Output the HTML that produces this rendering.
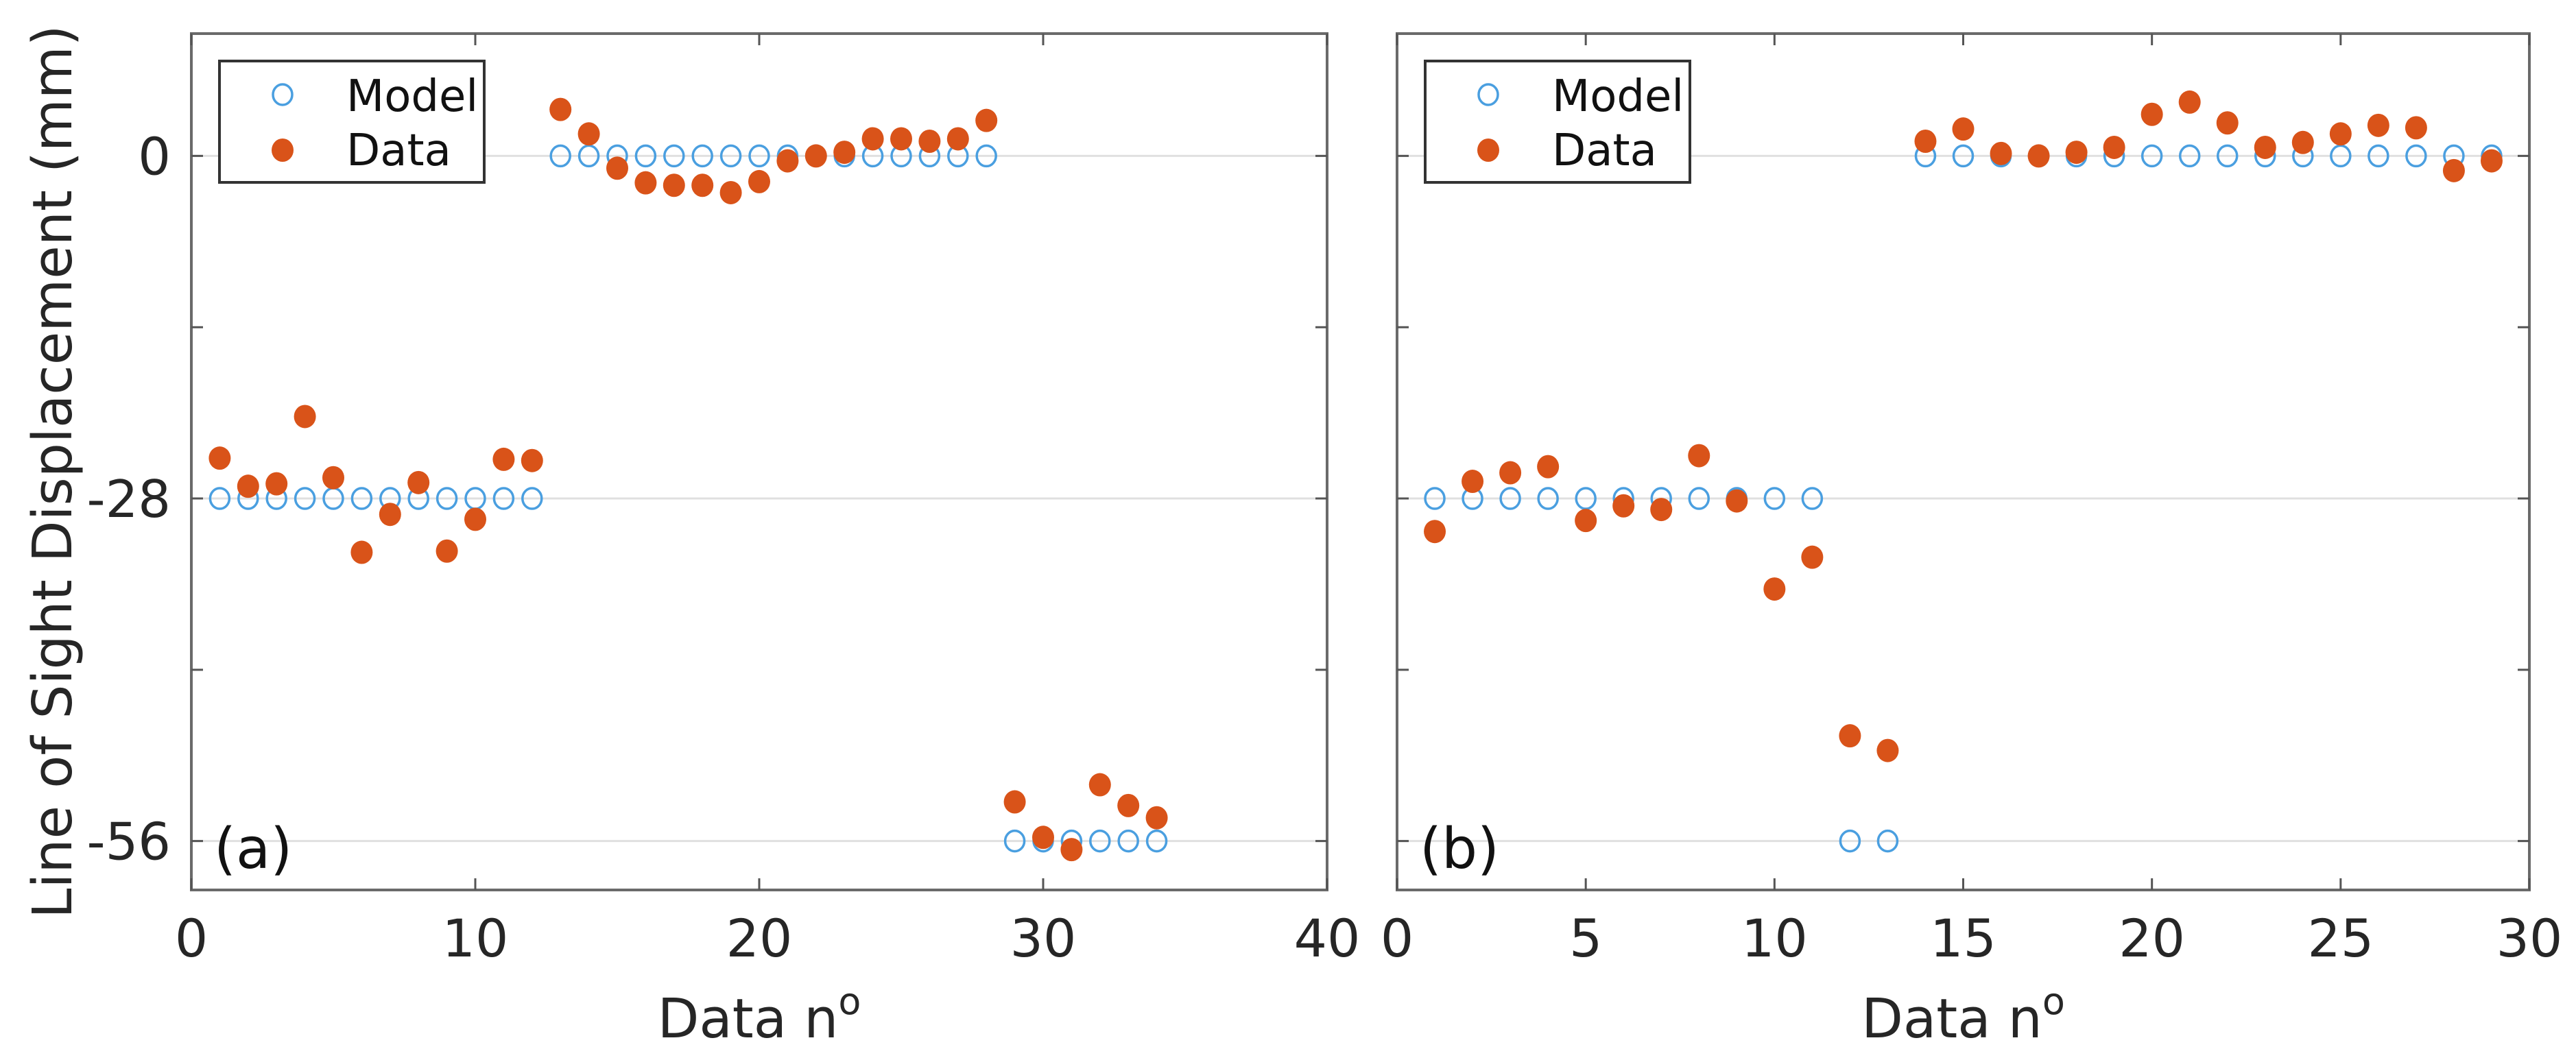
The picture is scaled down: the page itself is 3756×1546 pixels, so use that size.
<!DOCTYPE html>
<html><head><meta charset="utf-8"><style>
html,body{margin:0;padding:0;background:#fff;}
svg{display:block;font-family:"DejaVu Sans","Liberation Sans",sans-serif;}
</style></head><body>
<svg id="fig" width="3756" height="1546" viewBox="0 0 3756 1546" xmlns="http://www.w3.org/2000/svg">
<rect width="3756" height="1546" fill="#fff"/>
<text transform="translate(104,688) rotate(-90)" text-anchor="middle" font-size="79" fill="#262626">Line of Sight Displacement (mm)</text>
</svg>
<script>
// Panel (a)
const aModelX = [1,2,3,4,5,6,7,8,9,10,11,12,13,14,15,16,17,18,19,20,21,22,23,24,25,26,27,28,29,30,31,32,33,34];
const aModelY = [-28,-28,-28,-28,-28,-28,-28,-28,-28,-28,-28,-28,0,0,0,0,0,0,0,0,0,0,0,0,0,0,0,0,-56,-56,-56,-56,-56,-56];
const aDataY = [-24.7,-27.0,-26.8,-21.3,-26.3,-32.4,-29.3,-26.7,-32.3,-29.7,-24.8,-24.9,3.8,1.8,-1.0,-2.2,-2.4,-2.4,-3.0,-2.1,-0.4,0,0.3,1.4,1.4,1.2,1.4,2.9,-52.8,-55.7,-56.7,-51.4,-53.1,-54.1];
const aXTicks = [0,10,20,30,40];
// Panel (b)
const bModelX = [1,2,3,4,5,6,7,8,9,10,11,12,13,14,15,16,17,18,19,20,21,22,23,24,25,26,27,28,29];
const bModelY = [-28,-28,-28,-28,-28,-28,-28,-28,-28,-28,-28,-56,-56,0,0,0,0,0,0,0,0,0,0,0,0,0,0,0,0];
const bDataY = [-30.7,-26.6,-25.9,-25.4,-29.8,-28.6,-28.9,-24.5,-28.2,-35.4,-32.8,-47.4,-48.6,1.2,2.2,0.2,0,0.3,0.7,3.4,4.4,2.7,0.7,1.1,1.8,2.5,2.3,-1.2,-0.4];
const bXTicks = [0,5,10,15,20,25,30];
const yTicks = [-56,-42,-28,-14,0];
const yLabels = ['-56','','-28','','0'];
const yGrid = [-56,-28,0];

const NS = 'http://www.w3.org/2000/svg';
const svg = document.getElementById('fig');
function mk(tag, attrs, parent){
  const e = document.createElementNS(NS, tag);
  for (const k in attrs) e.setAttribute(k, attrs[k]);
  (parent||svg).appendChild(e);
  return e;
}
function panel(opt){
  const g = mk('g', {});
  
  
  const L = opt.left, R = opt.right, T = 49, B = 1298;
  const xs = v => L + (v - opt.xmin) / (opt.xmax - opt.xmin) * (R - L);
  const ys = v => T + (10 - v) / 70 * (B - T);
  yGrid.forEach(v => {
    const l = mk('line', {x1:L, x2:R, y1:ys(v), y2:ys(v), stroke:'#e0e0e0', 'stroke-width':3}, g);
    
    
  });
  const box = mk('rect', {x:L, y:T, width:R-L, height:B-T, fill:'none', stroke:'#6a6a6a', 'stroke-width':4}, g);
  
  
  opt.xticks.forEach(v => {
    const x = xs(v);
    mk('line', {x1:x, x2:x, y1:B, y2:B-17, stroke:'#555', 'stroke-width':3}, g);
    mk('line', {x1:x, x2:x, y1:T, y2:T+17, stroke:'#555', 'stroke-width':3}, g);
    const t = mk('text', {x:x, y:1395, 'text-anchor':'middle', 'font-size':76, fill:'#262626'}, g);
    
    
    t.textContent = String(v);
  });
  yTicks.forEach((v, i) => {
    const y = ys(v);
    mk('line', {x1:L, x2:L+17, y1:y, y2:y, stroke:'#555', 'stroke-width':3}, g);
    mk('line', {x1:R, x2:R-17, y1:y, y2:y, stroke:'#555', 'stroke-width':3}, g);
    if (opt.ylabels && yLabels[i]) {
      const t = mk('text', {x:L-30, y:y+27, 'text-anchor':'end', 'font-size':75, fill:'#262626'}, g);
      
      
      t.textContent = yLabels[i];
    }
  });
  const xt = mk('text', {x:(L+R)/2, y:1513, 'text-anchor':'middle', 'font-size':79, fill:'#262626'}, g);
  
  
  xt.appendChild(document.createTextNode('Data n'));
  const sup = mk('tspan', {dy:-34, 'font-size':54}, xt);
  sup.textContent = 'o';
  const pl = mk('text', {x:L+33, y:1266, 'font-size':82, fill:'#111'}, g);
  
  
  pl.textContent = opt.letter;
  opt.mx.forEach((x, i) => {
    const c = mk('ellipse', {cx:xs(x), cy:ys(opt.my[i]), rx:14, ry:15, fill:'none', stroke:'#4a9fe0', 'stroke-width':3.5}, g);
    
    
  });
  opt.mx.forEach((x, i) => {
    const c = mk('ellipse', {cx:xs(x), cy:ys(opt.dy[i]), rx:16, ry:17, fill:'#d95319'}, g);
    
    
  });
  const lx = L + 41, ly = 89;
  const lg = mk('g', {}, g);
  
  
  mk('rect', {x:lx, y:ly, width:386, height:177, fill:'#fff', stroke:'#333', 'stroke-width':4}, lg);
  const e1 = mk('ellipse', {cx:lx+92, cy:ly+49, rx:14, ry:15, fill:'none', stroke:'#4a9fe0', 'stroke-width':3.5}, lg);
  
  
  const t1 = mk('text', {x:lx+185, y:ly+73, 'font-size':64, fill:'#111'}, lg);
  
  
  t1.textContent = 'Model';
  const e2 = mk('ellipse', {cx:lx+92, cy:ly+130, rx:16, ry:17, fill:'#d95319'}, lg);
  
  
  const t2 = mk('text', {x:lx+185, y:ly+152, 'font-size':64, fill:'#111'}, lg);
  
  
  t2.textContent = 'Data';
}
panel({name:'panel-a', left:279, right:1935, xmin:0, xmax:40, xticks:aXTicks, ylabels:true, letter:'(a)', mx:aModelX, my:aModelY, dy:aDataY});
panel({name:'panel-b', left:2037, right:3688, xmin:0, xmax:30, xticks:bXTicks, ylabels:false, letter:'(b)', mx:bModelX, my:bModelY, dy:bDataY});
</script>
</body></html>
